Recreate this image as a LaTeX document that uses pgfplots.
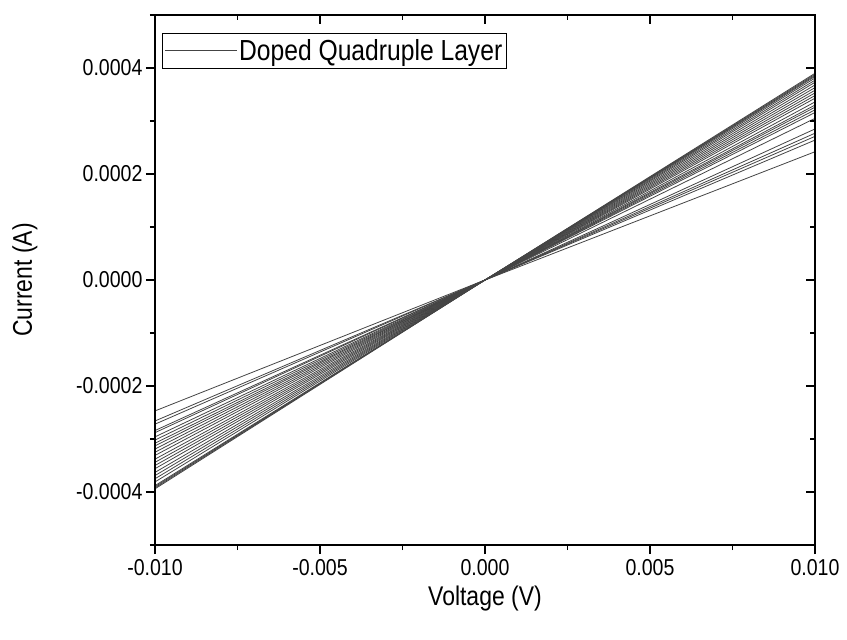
\documentclass[border=0pt]{standalone}
\usepackage{fontspec}
\setmainfont{Liberation Sans}[FakeStretch=0.85]
\usepackage{pgfplots}
\pgfplotsset{compat=1.18}

\definecolor{ivline}{HTML}{444444}

\begin{document}
\begin{tikzpicture}
\pgfplotsset{
  ivframe/.style={
    width=660bp, height=530bp, scale only axis,
    xmin=-0.01, xmax=0.01, ymin=-0.0005, ymax=0.0005,
    xtick={-0.01,-0.005,0,0.005,0.01},
    minor xtick={-0.0075,-0.0025,0.0025,0.0075},
    ytick={-0.0004,-0.0002,0,0.0002,0.0004},
    minor ytick={-0.0005,-0.0003,-0.0001,0.0001,0.0003,0.0005},
    scaled x ticks=false, scaled y ticks=false,
    major tick length=9bp, minor tick length=5bp,
    every tick/.style={black, line width=1.3bp},
    axis line style={black, line width=1.5bp},
  },
  iv/.style={ivline, line width=0.8bp, mark=none},
}
\begin{axis}[
  ivframe,
  xtick pos=bottom, ytick pos=left, tick align=outside,
  clip=false,
  /pgf/number format/assume math mode=true,
  xticklabel style={font=\fontsize{23bp}{26bp}\selectfont, yshift=-2bp,
    /pgf/number format/.cd, fixed, fixed zerofill, precision=3},
  yticklabel style={font=\fontsize{23bp}{26bp}\selectfont,
    /pgf/number format/.cd, fixed, fixed zerofill, precision=4},
  xlabel={Voltage (V)}, ylabel={Current (A)},
  label style={font=\fontsize{27bp}{30bp}\selectfont},
  xlabel style={at={(axis description cs:0.5,-0.1)}, anchor=center},
  ylabel style={at={(axis description cs:-0.197,0.5)}, anchor=center},
  legend style={at={(axis description cs:0.0106,0.966)}, anchor=north west,
    draw=black, line width=0.8bp, font=\fontsize{29bp}{32bp}\selectfont,
    inner xsep=2bp, inner ysep=4bp},
  legend image code/.code={
    \path (0bp,0bp) -- (72bp,0bp);
    \draw[#1, line width=0.8bp] (2bp,0bp) -- (68bp,0bp);},
]
% I-V sweeps of the doped quadruple layer, one line per measurement
\addplot[iv] coordinates {(-0.01,-0.000394) (0,0) (0.01,0.000390)};
\addlegendentry{Doped Quadruple Layer}
\addplot[iv, forget plot] coordinates {(-0.01,-0.000392) (0,0) (0.01,0.000388)};
\addplot[iv, forget plot] coordinates {(-0.01,-0.000390) (0,0) (0.01,0.000386)};
\addplot[iv, forget plot] coordinates {(-0.01,-0.000388) (0,0) (0.01,0.000384)};
\addplot[iv, forget plot] coordinates {(-0.01,-0.000381) (0,0) (0.01,0.000381)};
\addplot[iv, forget plot] coordinates {(-0.01,-0.000375) (0,0) (0.01,0.000377)};
\addplot[iv, forget plot] coordinates {(-0.01,-0.000369) (0,0) (0.01,0.000373)};
\addplot[iv, forget plot] coordinates {(-0.01,-0.000363) (0,0) (0.01,0.000368)};
\addplot[iv, forget plot] coordinates {(-0.01,-0.000356) (0,0) (0.01,0.000363)};
\addplot[iv, forget plot] coordinates {(-0.01,-0.000350) (0,0) (0.01,0.000358)};
\addplot[iv, forget plot] coordinates {(-0.01,-0.000344) (0,0) (0.01,0.000353)};
\addplot[iv, forget plot] coordinates {(-0.01,-0.000338) (0,0) (0.01,0.000348)};
\addplot[iv, forget plot] coordinates {(-0.01,-0.000331) (0,0) (0.01,0.000343)};
\addplot[iv, forget plot] coordinates {(-0.01,-0.000325) (0,0) (0.01,0.000336)};
\addplot[iv, forget plot] coordinates {(-0.01,-0.000319) (0,0) (0.01,0.000330)};
\addplot[iv, forget plot] coordinates {(-0.01,-0.000313) (0,0) (0.01,0.000326)};
\addplot[iv, forget plot] coordinates {(-0.01,-0.000308) (0,0) (0.01,0.000321)};
\addplot[iv, forget plot] coordinates {(-0.01,-0.000302) (0,0) (0.01,0.000316)};
\addplot[iv, forget plot] coordinates {(-0.01,-0.000296) (0,0) (0.01,0.000305)};
\addplot[iv, forget plot] coordinates {(-0.01,-0.000288) (0,0) (0.01,0.000285)};
\addplot[iv, forget plot] coordinates {(-0.01,-0.000284) (0,0) (0.01,0.000277)};
\addplot[iv, forget plot] coordinates {(-0.01,-0.000272) (0,0) (0.01,0.000271)};
\addplot[iv, forget plot] coordinates {(-0.01,-0.000266) (0,0) (0.01,0.000264)};
\addplot[iv, forget plot] coordinates {(-0.01,-0.000247) (0,0) (0.01,0.000242)};
% page margins around the frame
\path (axis description cs:-0.2348,-0.1774) rectangle (axis description cs:1.0485,1.0283);
\end{axis}
% mirrored ticks on the top and right edges, pointing inwards
\begin{axis}[
  ivframe,
  xtick pos=top, ytick pos=right, tick align=inside,
  xticklabels={}, yticklabels={},
]
\end{axis}
\end{tikzpicture}
\end{document}
